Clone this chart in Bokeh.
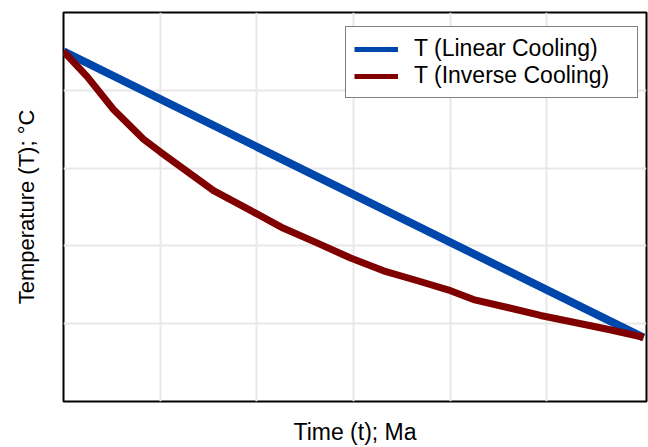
from bokeh.plotting import figure
from bokeh.models import Range1d, FixedTicker, Legend, LegendItem
from bokeh.embed import file_html
from bokeh.resources import INLINE

# Time (Ma)
t_linear = [0, 60]
T_linear = [225, 41]

t_inverse = [0, 2.45, 5.17, 8.28, 10.03, 15.52, 19.34, 22.76, 26.27, 29.69, 33.1,
             36.62, 40.03, 42.41, 45.93, 49.34, 52.76, 56.27, 60]
T_inverse = [225, 208.8, 187.7, 168.6, 160.3, 135.5, 122.8, 111.3, 101.8, 92.2, 84.0,
             77.6, 71.2, 65.5, 60.4, 55.3, 50.9, 46.4, 41.3]

x_grid = [10, 20, 30, 40, 50]
y_grid = [50, 100, 150, 200]

labels = ["T (Linear Cooling)", "T (Inverse Cooling)"]
colors = ["#0047ab", "#800000"]

FONT = "Liberation Sans"
NAN = float("nan")

p = figure(width=648, height=447, output_backend="svg", toolbar_location=None,
           x_range=Range1d(0, 60.3), y_range=Range1d(0, 250),
           min_border_left=63, min_border_right=2, min_border_top=12, min_border_bottom=42)

p.outline_line_color = "black"
p.outline_line_width = 2
p.outline_line_alpha = 1

for ax in (p.xaxis[0], p.yaxis[0]):
    ax.ticker = FixedTicker(ticks=[])
    ax.major_label_text_font_size = "0px"
    ax.major_tick_line_color = None
    ax.minor_tick_line_color = None
    ax.major_tick_out = 0
    ax.minor_tick_out = 0
    ax.major_tick_in = 0
    ax.minor_tick_in = 0
    ax.axis_line_color = None
    ax.axis_label_text_font = FONT
    ax.axis_label_text_font_style = "normal"
    ax.axis_label_text_color = "black"
    ax.major_label_standoff = 0

p.xgrid.ticker = FixedTicker(ticks=x_grid)
p.ygrid.ticker = FixedTicker(ticks=y_grid)
p.xaxis.axis_label = "Time (t); Ma"
p.yaxis.axis_label = "Temperature (T); °C"
p.xaxis.axis_label_text_font_size = "23px"
p.yaxis.axis_label_text_font_size = "22px"
p.xaxis.axis_label_standoff = 17
p.yaxis.axis_label_standoff = 25

p.grid.grid_line_color = "#e8e8e8"
p.grid.grid_line_width = 2

p.line(t_linear, T_linear, line_color=colors[0], line_width=8, line_join="round")
p.line(t_inverse, T_inverse, line_color=colors[1], line_width=7, line_join="round")

# legend proxies (thinner line samples, as in the reference legend); nothing drawn in the plot
k1 = p.line(t_linear, [NAN] * len(t_linear), line_color=colors[0], line_width=5)
k2 = p.line(t_linear, [NAN] * len(t_linear), line_color=colors[1], line_width=5)

legend = Legend(items=[LegendItem(label=labels[0], renderers=[k1]),
                       LegendItem(label=labels[1], renderers=[k2])],
                location=(282, 303), margin=0)
legend.label_text_font = FONT
legend.label_text_font_size = "23px"
legend.label_text_color = "black"
legend.border_line_color = "black"
legend.border_line_width = 1
legend.padding = 8
legend.glyph_width = 44
legend.label_standoff = 16
legend.spacing = 0
legend.label_width = 215
legend.label_height = 24
legend.glyph_height = 24
p.add_layout(legend)

open("out.html", "w").write(file_html(p, INLINE))
